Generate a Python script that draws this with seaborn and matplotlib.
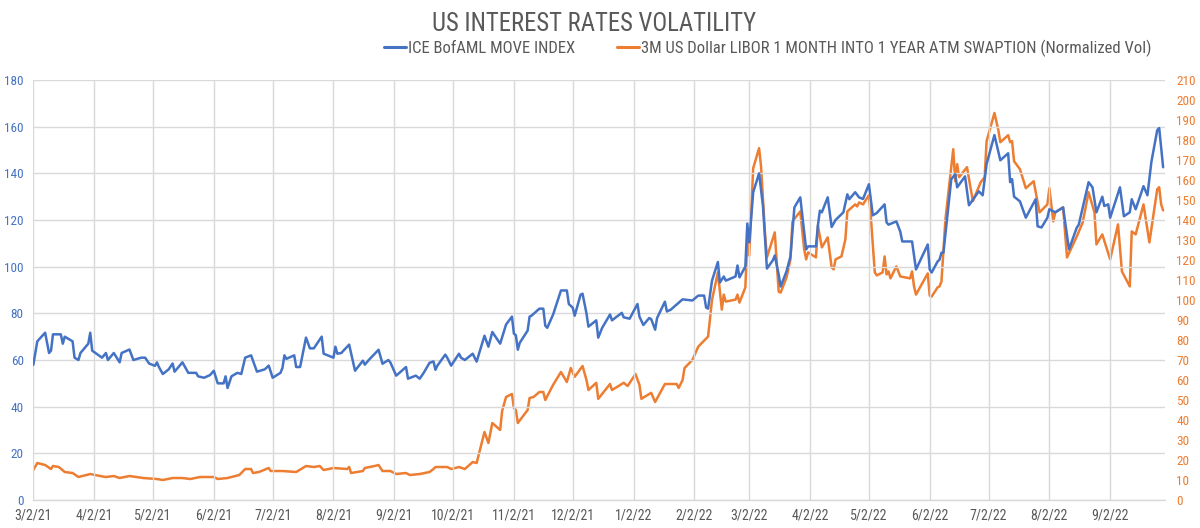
import matplotlib
matplotlib.use("Agg")
import matplotlib.font_manager as fm
import matplotlib.pyplot as plt
import pandas as pd
import seaborn as sns
from matplotlib.lines import Line2D

# ---------------------------------------------------------------------
# Data
# ---------------------------------------------------------------------
MOVE_DATES = [
    "2021-03-02", "2021-03-04", "2021-03-08", "2021-03-10", "2021-03-11", "2021-03-12", "2021-03-16",
    "2021-03-17", "2021-03-18", "2021-03-22", "2021-03-23", "2021-03-25", "2021-03-26", "2021-03-30",
    "2021-03-31", "2021-04-01", "2021-04-06", "2021-04-08", "2021-04-09", "2021-04-12", "2021-04-15",
    "2021-04-16", "2021-04-20", "2021-04-22", "2021-04-26", "2021-04-28", "2021-04-30", "2021-05-03",
    "2021-05-04", "2021-05-05", "2021-05-07", "2021-05-10", "2021-05-12", "2021-05-13", "2021-05-17",
    "2021-05-20", "2021-05-24", "2021-05-25", "2021-05-28", "2021-05-31", "2021-06-02", "2021-06-04",
    "2021-06-07", "2021-06-08", "2021-06-09", "2021-06-11", "2021-06-14", "2021-06-16", "2021-06-18",
    "2021-06-21", "2021-06-24", "2021-06-28", "2021-06-30", "2021-07-02", "2021-07-06", "2021-07-07",
    "2021-07-08", "2021-07-09", "2021-07-13", "2021-07-14", "2021-07-16", "2021-07-19", "2021-07-21",
    "2021-07-23", "2021-07-27", "2021-07-28", "2021-08-02", "2021-08-03", "2021-08-04", "2021-08-06",
    "2021-08-10", "2021-08-13", "2021-08-17", "2021-08-18", "2021-08-20", "2021-08-25", "2021-08-27",
    "2021-08-30", "2021-08-31", "2021-09-03", "2021-09-08", "2021-09-09", "2021-09-13", "2021-09-15",
    "2021-09-17", "2021-09-20", "2021-09-22", "2021-09-23", "2021-09-24", "2021-09-28", "2021-09-29",
    "2021-10-01", "2021-10-05", "2021-10-06", "2021-10-08", "2021-10-12", "2021-10-14", "2021-10-18",
    "2021-10-20", "2021-10-22", "2021-10-26", "2021-10-29", "2021-11-01", "2021-11-02", "2021-11-03",
    "2021-11-04", "2021-11-05", "2021-11-09", "2021-11-10", "2021-11-11", "2021-11-15", "2021-11-17",
    "2021-11-18", "2021-11-19", "2021-11-22", "2021-11-26", "2021-11-29", "2021-11-30", "2021-12-02",
    "2021-12-03", "2021-12-06", "2021-12-07", "2021-12-09", "2021-12-10", "2021-12-14", "2021-12-15",
    "2021-12-17", "2021-12-21", "2021-12-22", "2021-12-27", "2021-12-28", "2021-12-31", "2022-01-04",
    "2022-01-05", "2022-01-07", "2022-01-10", "2022-01-11", "2022-01-13", "2022-01-14", "2022-01-18",
    "2022-01-19", "2022-01-21", "2022-01-27", "2022-02-01", "2022-02-04", "2022-02-07", "2022-02-08",
    "2022-02-09", "2022-02-11", "2022-02-14", "2022-02-15", "2022-02-17", "2022-02-18", "2022-02-23",
    "2022-02-24", "2022-02-25", "2022-02-28", "2022-03-01", "2022-03-02", "2022-03-04", "2022-03-07",
    "2022-03-09", "2022-03-11", "2022-03-14", "2022-03-15", "2022-03-17", "2022-03-18", "2022-03-21",
    "2022-03-23", "2022-03-25", "2022-03-28", "2022-03-30", "2022-03-31", "2022-04-01", "2022-04-05",
    "2022-04-06", "2022-04-07", "2022-04-08", "2022-04-11", "2022-04-13", "2022-04-15", "2022-04-19",
    "2022-04-21", "2022-04-22", "2022-04-25", "2022-04-27", "2022-04-29", "2022-05-02", "2022-05-04",
    "2022-05-06", "2022-05-10", "2022-05-11", "2022-05-12", "2022-05-16", "2022-05-18", "2022-05-19",
    "2022-05-24", "2022-05-26", "2022-06-01", "2022-06-02", "2022-06-03", "2022-06-06", "2022-06-07",
    "2022-06-08", "2022-06-09", "2022-06-13", "2022-06-15", "2022-06-16", "2022-06-20", "2022-06-22",
    "2022-06-27", "2022-06-29", "2022-07-01", "2022-07-05", "2022-07-08", "2022-07-12", "2022-07-13",
    "2022-07-14", "2022-07-15", "2022-07-18", "2022-07-21", "2022-07-26", "2022-07-27", "2022-07-29",
    "2022-08-01", "2022-08-02", "2022-08-05", "2022-08-09", "2022-08-12", "2022-08-16", "2022-08-17",
    "2022-08-22", "2022-08-24", "2022-08-26", "2022-08-29", "2022-08-30", "2022-09-01", "2022-09-02",
    "2022-09-07", "2022-09-09", "2022-09-12", "2022-09-13", "2022-09-15", "2022-09-19", "2022-09-21",
    "2022-09-23", "2022-09-26", "2022-09-27", "2022-09-29",
]
MOVE_VALUES = [
    58, 68, 71.7, 63, 64, 71, 71,
    67, 70, 68, 61, 60, 63, 67,
    71.7, 64, 61, 63, 60, 63, 59,
    63, 64.5, 60, 61, 61, 58.5, 57.5,
    59, 57, 54, 56, 58.5, 55, 59,
    54.5, 54.5, 53, 52.4, 53.5, 55.4, 50,
    50, 53, 48, 53, 54.5, 54, 61,
    62, 55, 56, 57.6, 52.4, 54.5, 56.6,
    62, 60.5, 62, 57, 57, 69.6, 65,
    65, 70, 62.7, 61, 65.7, 62.7, 63,
    66.6, 55.4, 59.7, 58, 60, 64.4, 58.4,
    60, 59, 53.3, 57, 52, 53.3, 52,
    54.5, 58.8, 59.4, 55.8, 57.6, 62.3, 61,
    57.6, 62.7, 61, 60, 62.7, 59.3, 70.4,
    65.7, 72, 67, 75.2, 78.6, 71.3, 70.6,
    64.4, 67.4, 72.6, 78.6, 79, 82, 82,
    74.7, 73.8, 79.5, 89.8, 89.8, 84, 82.4,
    79, 88, 88.4, 80, 74.3, 77, 69.6,
    73.8, 79.5, 77, 80.2, 78.3, 77.7, 84,
    78.6, 75, 78, 77.5, 73, 78, 85,
    80.8, 81.6, 86, 85.5, 87.6, 87.6, 82.5,
    82, 94, 102, 93.2, 95.8, 94, 95.8,
    100.5, 95.4, 100, 118.5, 110.4, 131.9, 140,
    125.9, 99.2, 102.7, 104.8, 96.6, 91.5, 98,
    104.4, 125.4, 129.7, 115, 107.4, 108.7, 108.7,
    117.7, 124, 123.3, 129.7, 117, 120, 123.3,
    131, 128.9, 131.9, 129.7, 129, 135.3, 122,
    123, 126.7, 119, 118, 119.4, 115, 110.8,
    110.8, 98.8, 109.5, 98.8, 97.5, 102.2, 103,
    106, 106, 137.5, 139.6, 134, 138.7, 126.3,
    132.3, 130.6, 144, 156.4, 145.6, 148.6, 136.2,
    137.5, 130, 128, 121, 128.9, 117.3, 116.8,
    121, 124.6, 123.3, 125.4, 107.4, 116.8, 118,
    136.2, 134, 123.3, 130, 126, 126.7, 121,
    134, 121.6, 123.3, 128.9, 124.6, 134.5, 130.6,
    144.8, 158.5, 159.4, 142.6,
]

SWAPTION_DATES = [
    "2021-03-02", "2021-03-04", "2021-03-08", "2021-03-11", "2021-03-12", "2021-03-15", "2021-03-18",
    "2021-03-22", "2021-03-25", "2021-03-31", "2021-04-05", "2021-04-08", "2021-04-12", "2021-04-15",
    "2021-04-20", "2021-04-27", "2021-05-04", "2021-05-07", "2021-05-12", "2021-05-17", "2021-05-21",
    "2021-05-26", "2021-06-02", "2021-06-04", "2021-06-09", "2021-06-15", "2021-06-18", "2021-06-21",
    "2021-06-22", "2021-06-25", "2021-06-30", "2021-07-01", "2021-07-07", "2021-07-14", "2021-07-19",
    "2021-07-23", "2021-07-26", "2021-07-28", "2021-08-02", "2021-08-09", "2021-08-10", "2021-08-11",
    "2021-08-17", "2021-08-18", "2021-08-23", "2021-08-25", "2021-08-27", "2021-08-31", "2021-09-03",
    "2021-09-08", "2021-09-10", "2021-09-15", "2021-09-20", "2021-09-22", "2021-09-23", "2021-09-29",
    "2021-10-01", "2021-10-05", "2021-10-08", "2021-10-12", "2021-10-14", "2021-10-18", "2021-10-20",
    "2021-10-22", "2021-10-26", "2021-10-27", "2021-10-29", "2021-11-01", "2021-11-02", "2021-11-03",
    "2021-11-04", "2021-11-09", "2021-11-10", "2021-11-12", "2021-11-15", "2021-11-17", "2021-11-18",
    "2021-11-22", "2021-11-26", "2021-11-29", "2021-12-01", "2021-12-03", "2021-12-07", "2021-12-09",
    "2021-12-10", "2021-12-14", "2021-12-15", "2021-12-21", "2021-12-22", "2021-12-28", "2021-12-30",
    "2022-01-03", "2022-01-05", "2022-01-06", "2022-01-11", "2022-01-13", "2022-01-18", "2022-01-24",
    "2022-01-25", "2022-01-27", "2022-01-28", "2022-02-01", "2022-02-04", "2022-02-09", "2022-02-11",
    "2022-02-14", "2022-02-16", "2022-02-17", "2022-02-18", "2022-02-23", "2022-02-24", "2022-02-25",
    "2022-02-28", "2022-03-01", "2022-03-02", "2022-03-04", "2022-03-07", "2022-03-08", "2022-03-10",
    "2022-03-11", "2022-03-15", "2022-03-17", "2022-03-18", "2022-03-21", "2022-03-23", "2022-03-24",
    "2022-03-28", "2022-03-30", "2022-03-31", "2022-04-01", "2022-04-05", "2022-04-06", "2022-04-08",
    "2022-04-11", "2022-04-13", "2022-04-14", "2022-04-15", "2022-04-18", "2022-04-20", "2022-04-21",
    "2022-04-25", "2022-04-26", "2022-04-27", "2022-04-29", "2022-05-02", "2022-05-03", "2022-05-05",
    "2022-05-06", "2022-05-09", "2022-05-10", "2022-05-11", "2022-05-12", "2022-05-13", "2022-05-16",
    "2022-05-18", "2022-05-23", "2022-05-24", "2022-05-25", "2022-05-26", "2022-06-01", "2022-06-02",
    "2022-06-03", "2022-06-06", "2022-06-07", "2022-06-08", "2022-06-10", "2022-06-14", "2022-06-15",
    "2022-06-16", "2022-06-17", "2022-06-21", "2022-06-24", "2022-06-28", "2022-06-30", "2022-07-01",
    "2022-07-05", "2022-07-07", "2022-07-08", "2022-07-12", "2022-07-13", "2022-07-14", "2022-07-15",
    "2022-07-18", "2022-07-21", "2022-07-25", "2022-07-28", "2022-08-01", "2022-08-02", "2022-08-04",
    "2022-08-05", "2022-08-09", "2022-08-11", "2022-08-16", "2022-08-19", "2022-08-22", "2022-08-25",
    "2022-08-26", "2022-08-29", "2022-09-02", "2022-09-06", "2022-09-08", "2022-09-12", "2022-09-13",
    "2022-09-15", "2022-09-19", "2022-09-22", "2022-09-26", "2022-09-27", "2022-09-28", "2022-09-29",
]
SWAPTION_VALUES = [
    15, 18.5, 17.5, 15.5, 17, 16.5, 14,
    13.5, 11.5, 13, 12, 11.5, 12, 11,
    12, 11, 10.5, 10, 11, 11, 10.5,
    11.5, 11.5, 10.5, 11, 12.5, 15.5, 15.5,
    13.5, 14, 16, 14.5, 14.5, 14, 17,
    16.5, 17, 15, 16, 15.5, 16.5, 13.5,
    14.5, 16, 17, 17.5, 14.5, 14.5, 13,
    13.5, 12.5, 13, 14, 15.5, 16.5, 16.5,
    15.5, 16.5, 15.5, 19, 18.5, 34, 28.5,
    38.5, 35, 44.5, 51.5, 53, 46, 45,
    38.5, 45, 51, 51.5, 54, 54, 50,
    57.6, 64, 59, 66, 61.6, 67, 60,
    55, 58.6, 50.6, 58, 55, 58.6, 57,
    63, 57.6, 50.6, 53.6, 49, 58, 58,
    56, 60, 66, 70, 76.7, 81.7, 100,
    113.8, 95.2, 102.7, 99.2, 100.2, 102.7, 98.7,
    106.3, 129.3, 122.3, 165.9, 175.9, 166.9, 133.8,
    121.3, 133.8, 104.2, 103.7, 111.3, 120.3, 139.3,
    144.3, 125.3, 120.3, 123.8, 121.3, 137.3, 126.3,
    131.3, 116.3, 115.3, 120.3, 121.8, 130.3, 144.3,
    147.8, 146.8, 148.8, 147.8, 152.4, 141.3, 113.8,
    112.3, 113.8, 121.8, 112.8, 114.3, 110.8, 116.8,
    111.8, 110.8, 114.3, 106.8, 102.7, 113.3, 102.2,
    101.7, 106.3, 106.8, 109.3, 140.3, 175.4, 159.4,
    167.9, 161.4, 166.4, 149.4, 158.9, 161.4, 179.4,
    193.5, 184.9, 178.9, 182.4, 178.9, 179.4, 169.4,
    165.4, 155.9, 159.4, 143.8, 147.8, 155.9, 139.3,
    143.8, 146.3, 121.3, 131.8, 138.8, 153.9, 143.8,
    127.8, 132.8, 120.3, 137.8, 114.3, 106.8, 134.3,
    132.8, 147.8, 128.8, 155.4, 156.4, 147.8, 144.8,
]

TICK_DATES = [
    "2021-03-02", "2021-04-02", "2021-05-02", "2021-06-02", "2021-07-02", "2021-08-02",
    "2021-09-02", "2021-10-02", "2021-11-02", "2021-12-02", "2022-01-02", "2022-02-02",
    "2022-03-02", "2022-04-02", "2022-05-02", "2022-06-02", "2022-07-02", "2022-08-02",
    "2022-09-02",
]
TICK_LABELS = [
    "3/2/21", "4/2/21", "5/2/21", "6/2/21", "7/2/21", "8/2/21", "9/2/21", "10/2/21",
    "11/2/21", "12/2/21", "1/2/22", "2/2/22", "3/2/22", "4/2/22", "5/2/22", "6/2/22",
    "7/2/22", "8/2/22", "9/2/22",
]

TITLE = "US INTEREST RATES VOLATILITY"
MOVE_NAME = "ICE BofAML MOVE INDEX"
SWAPTION_NAME = "3M US Dollar LIBOR 1 MONTH INTO 1 YEAR ATM SWAPTION (Normalized Vol)"

BLUE = "#4472C4"
ORANGE = "#ED7D31"
GRID = "#D9D9D9"
TEXT = "#595959"

sns.set_style("white")

# the source uses a narrow DIN-like face; take the narrowest one we can find
narrow = None
for fam in ["Liberation Sans Narrow", "Roboto Condensed", "Open Sans Condensed"]:
    try:
        fm.findfont(fam, fallback_to_default=False)
        narrow = fam
        break
    except ValueError:
        pass
if narrow is None:
    cond = fm.findfont(fm.FontProperties(family="DejaVu Sans", stretch="condensed"))
    if "Condensed" in cond:
        plt.rcParams["font.stretch"] = "condensed"
        narrow = "DejaVu Sans"
if narrow is None:
    plt.rcParams["font.family"] = ["DejaVu Sans"]
    scale = 0.88
else:
    plt.rcParams["font.family"] = [narrow, "DejaVu Sans"]
    scale = 1.0

move_df = pd.DataFrame({"Date": pd.to_datetime(MOVE_DATES), "Value": MOVE_VALUES})
swap_df = pd.DataFrame({"Date": pd.to_datetime(SWAPTION_DATES), "Value": SWAPTION_VALUES})

fig = plt.figure(figsize=(12, 5.28), dpi=100)
ax = fig.add_axes([0.0278, 0.053, 0.9431, 0.7955])
ax2 = ax.twinx()

sns.lineplot(data=move_df, x="Date", y="Value", ax=ax, color=BLUE, linewidth=1.8)
sns.lineplot(data=swap_df, x="Date", y="Value", ax=ax2, color=ORANGE, linewidth=1.8)

# blue sits on top of orange in the source
ax.set_zorder(ax2.get_zorder() + 1)
ax.patch.set_visible(False)

ax.set_xlim(pd.Timestamp("2021-03-02"), pd.Timestamp("2022-09-30"))
ax.set_ylim(0, 180)
ax2.set_ylim(0, 210)
ax.set_yticks(range(0, 181, 20))
ax2.set_yticks(range(0, 211, 10))

ax.set_xticks(pd.to_datetime(TICK_DATES))
ax.set_xticklabels(TICK_LABELS)

ax.grid(True, axis="both", color=GRID, linewidth=1.0)
ax2.grid(False)

for a in (ax, ax2):
    a.set_xlabel("")
    a.set_ylabel("")
    for s in a.spines.values():
        s.set_visible(False)

ax.spines["bottom"].set_visible(True)
ax.spines["bottom"].set_color(GRID)
ax.spines["bottom"].set_linewidth(1.0)

ax.tick_params(axis="x", length=0, pad=6, labelsize=10 * scale, labelcolor=TEXT)
ax.tick_params(axis="y", length=0, pad=7, labelsize=9.5 * scale, labelcolor=BLUE)
ax2.tick_params(axis="y", length=0, pad=8, labelsize=9.5 * scale, labelcolor=ORANGE)

fig.text(0.495, 0.955, TITLE, ha="center", va="center", fontsize=17.8 * scale, color=TEXT)

handles = [
    Line2D([0], [0], color=BLUE, linewidth=2.2),
    Line2D([0], [0], color=ORANGE, linewidth=2.2),
]
fig.legend(handles, [MOVE_NAME, SWAPTION_NAME], loc="center", bbox_to_anchor=(0.64, 0.909),
           ncol=2, frameon=False, fontsize=12 * scale, handlelength=1.3, handletextpad=0.15,
           columnspacing=2.5, labelcolor=TEXT)

fig.savefig("out.png", dpi=100)
